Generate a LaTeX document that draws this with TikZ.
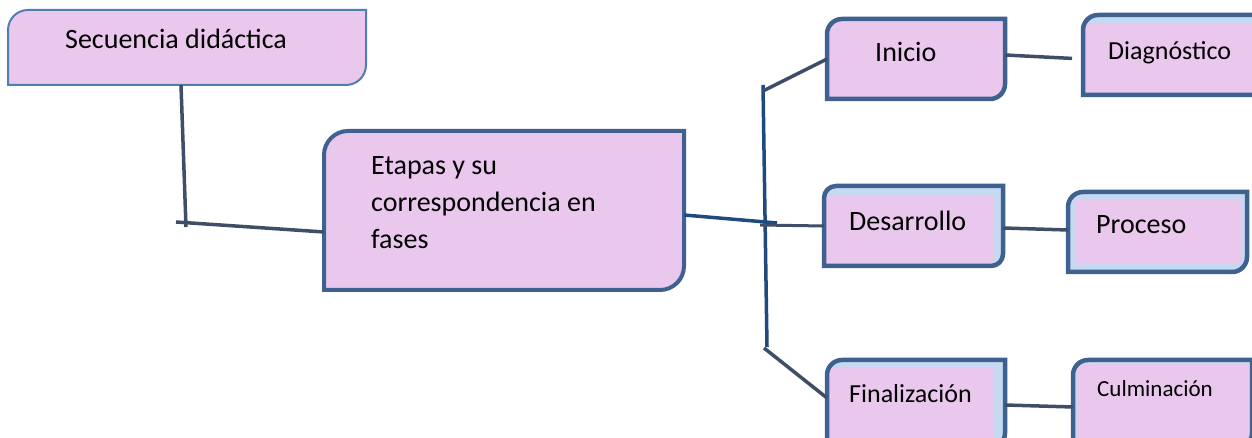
\documentclass[tikz,border=0pt]{standalone}
\usepackage{fontspec}
\setmainfont{Carlito}
\usetikzlibrary{calc}

\definecolor{lila}{HTML}{EAC8EE}
\definecolor{bandaAzul}{HTML}{C6D9F1}
\definecolor{marcoAzul}{HTML}{3E6190}
\definecolor{marcoClaro}{HTML}{4F7FB0}
\definecolor{lazoGris}{HTML}{3F4E66}
\definecolor{ejeAzul}{HTML}{1F4A80}

\tikzset{
  caja/.style={inner sep=0pt, outer sep=0pt},
  marco/.style={draw=marcoAzul, line width=4.5pt, fill=lila},
  banda/.style n args={4}{fill=bandaAzul,
    path picture={\fill[lila] ([xshift=#1,yshift=#4]path picture bounding box.south west)
      rectangle ([xshift=-#3,yshift=-#2]path picture bounding box.north east);}},
  texto/.style={anchor=base west, inner sep=0pt, font=\fontsize{28}{37}\selectfont},
  lazo/.style={draw=lazoGris, line width=3.5pt},
  eje/.style={draw=ejeAzul, line width=3.5pt}
}

% caja con esquinas redondeadas arriba-izquierda y abajo-derecha
\newcommand{\marco}[3][]{%
  \filldraw[marco,#1] (#2.south west) -- ([yshift=-#3]#2.north west)
    arc[start angle=180,end angle=90,radius=#3] -- (#2.north east)
    -- ([yshift=#3]#2.south east) arc[start angle=0,end angle=-90,radius=#3] -- cycle;}

\begin{document}
\begin{tikzpicture}[x=1pt,y=1pt]
\useasboundingbox (0,0) rectangle (1252,438);
\clip (0,0) rectangle (1252,438);

% Cajas
\node[caja,minimum width=358pt,minimum height=75pt] (sec) at (187,390.5) {};
\node[caja,minimum width=360pt,minimum height=159pt] (etapas) at (504,227.5) {};
\node[caja,minimum width=178pt,minimum height=80pt] (inicio) at (916,379) {};
\node[caja,minimum width=237pt,minimum height=80pt] (diag) at (1201.5,383) {};
\node[caja,minimum width=179pt,minimum height=80pt] (des) at (913.5,212) {};
\node[caja,minimum width=179pt,minimum height=80pt] (proc) at (1157.5,206) {};
\node[caja,minimum width=178pt,minimum height=88pt] (fin) at (916,34) {};
\node[caja,minimum width=179pt,minimum height=88pt] (culm) at (1162.5,34) {};

\marco[draw=marcoClaro,line width=2pt]{sec}{20pt}
\marco[line width=4pt]{etapas}{24pt}
\marco{inicio}{15pt}
\marco[banda={2pt}{8pt}{0pt}{2pt}]{diag}{15pt}
\marco[banda={2pt}{9pt}{10pt}{2pt}]{des}{12pt}
\marco[banda={7pt}{7pt}{6pt}{8pt}]{proc}{15pt}
\marco[banda={3pt}{8pt}{12pt}{0pt}]{fin}{15pt}
\marco[banda={5pt}{3pt}{3pt}{0pt}]{culm}{15pt}

% Textos
\node[texto] (sec-t) at (65,389) {Secuencia didáctica};
\node[texto,align=left] (etapas-t) at (371,189) {Etapas y su\\correspondencia en\\fases};
\node[texto] (inicio-t) at (875,376) {Inicio};
\node[texto,font=\fontsize{26}{30}\selectfont] (diag-t) at (1108,378) {Diagnóstico};
\node[texto] (des-t) at (849,207) {Desarrollo};
\node[texto] (proc-t) at (1096,204) {Proceso};
\node[texto,font=\fontsize{26}{30}\selectfont] (fin-t) at (849,35) {Finalización};
\node[texto,font=\fontsize{23}{28}\selectfont] (culm-t) at (1097,41) {Culminación};

% Conectores
\coordinate (codo1) at (186,211);
\coordinate (codo2) at (176,216);
\draw[lazo] ([xshift=173pt]sec.south west) -- (codo1);
\draw[lazo] (codo2) -- ([yshift=-21.5pt]etapas.west);

\coordinate (lomo1) at (763,353);
\coordinate (lomo2) at (767,91);
\coordinate (cruce1) at (777,215);
\coordinate (cruce2) at (760,213);
\draw[eje] (lomo1) -- (lomo2);
\draw[eje] ([yshift=-4.5pt]etapas.east) -- (cruce1);
\draw[lazo] ([yshift=-6pt]lomo1) -- (inicio.west);
\draw[lazo,line width=3pt] (cruce2) -- (des.west);
\draw[lazo] ([xshift=-3pt,yshift=-1pt]lomo2) -- ([yshift=6pt]fin.west);

\draw[lazo,shorten >=11pt] ([yshift=4pt]inicio.east) -- ([yshift=-4pt]diag.west);
\draw[lazo] ([yshift=-2pt]des.east) -- ([yshift=2pt]proc.west);
\draw[lazo] ([yshift=-1pt]fin.east) -- ([yshift=-3pt]culm.west);
\end{tikzpicture}
\end{document}
